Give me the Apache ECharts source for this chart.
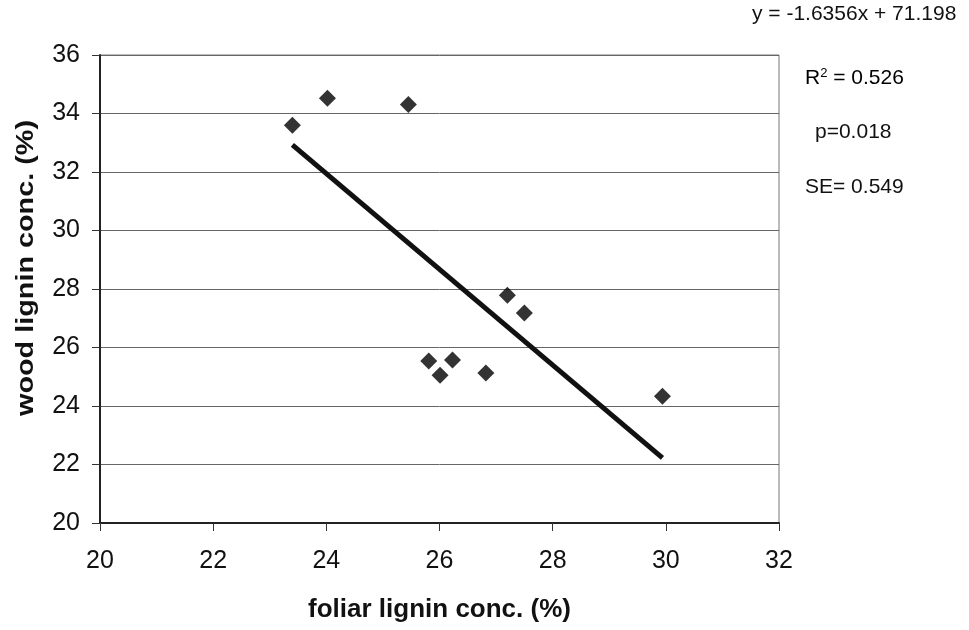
<!DOCTYPE html>
<html>
<head>
<meta charset="utf-8">
<script src="https://cdn.jsdelivr.net/npm/echarts@6/dist/echarts.min.js"></script>
<style>
  html, body { margin: 0; padding: 0; background: #fff; }
  #chart { width: 969px; height: 630px; }
</style>
</head>
<body>
<div id="chart"></div>
<script>
// Foliar vs wood lignin concentration (%)
const foliarLignin = [23.4, 24.02, 25.45, 27.2, 27.5, 25.81, 26.23, 26.01, 26.82, 29.94];
const woodLignin   = [33.6, 34.52, 34.31, 27.79, 27.18, 25.54, 25.57, 25.05, 25.13, 24.33];

// Linear fit y = slope * x + intercept, drawn over the observed foliar range
const slope = -1.6356;
const intercept = 71.198;
const fitRange = [23.4, 29.94];

const xTitle = 'foliar lignin conc. (%)';
const yTitle = 'wood lignin conc. (%)';
const statsLines = ['y = -1.6356x + 71.198', 'R² = 0.526', 'p=0.018', 'SE= 0.549'];

const points = foliarLignin.map((x, i) => [x, woodLignin[i]]);
const fitLine = fitRange.map(x => [x, slope * x + intercept]);

const FONT = 'Liberation Sans, Arial, sans-serif';
const chart = echarts.init(document.getElementById('chart'));

chart.setOption({
  backgroundColor: '#ffffff',
  animation: false,
  grid: {
    left: 100, right: 190, top: 55, bottom: 107,
    containLabel: false, outerBoundsMode: 'none',
    show: true, borderColor: '#777', borderWidth: 1, backgroundColor: 'transparent'
  },
  xAxis: {
    type: 'value', min: 20, max: 32, interval: 2,
    name: xTitle, nameLocation: 'middle', nameGap: 74,
    nameTextStyle: { fontFamily: FONT, fontWeight: 'bold', fontSize: 26, color: '#111' },
    axisLine: { show: true, onZero: false, lineStyle: { color: '#222', width: 2 } },
    axisTick: { show: true, inside: false, length: 8, lineStyle: { color: '#333', width: 1 } },
    axisLabel: { fontFamily: FONT, fontSize: 25, color: '#111', margin: 26 },
    splitLine: { show: false }
  },
  yAxis: {
    type: 'value', min: 20, max: 36, interval: 2,
    axisLine: { show: true, onZero: false, lineStyle: { color: '#222', width: 2 } },
    axisTick: { show: true, inside: false, length: 8, lineStyle: { color: '#333', width: 1 } },
    axisLabel: { fontFamily: FONT, fontSize: 25, color: '#111', margin: 20 },
    splitLine: { show: true, lineStyle: { color: '#666', width: 1 } }
  },
  series: [
    {
      type: 'line', data: fitLine, showSymbol: false, symbol: 'none',
      lineStyle: { color: '#111', width: 5 }, z: 2
    },
    {
      type: 'scatter', data: points, symbol: 'diamond', symbolSize: 17,
      itemStyle: { color: '#000' }, z: 3
    }
  ],
  graphic: [
    // vertical axis title, stretched along its length
    { type: 'text', x: 26, y: 268, rotation: Math.PI / 2, scaleX: 1.2,
      style: { text: yTitle, font: 'bold 24px ' + FONT, fill: '#111', align: 'center', verticalAlign: 'middle' } },
    { type: 'text', left: 752, top: 4, style: { text: statsLines[0], font: '21px ' + FONT, fill: '#111' } },
    { type: 'text', left: 805, top: 67, style: {
        text: '{b|R}{s|2}{b| = 0.526}',
        rich: {
          b: { fontFamily: FONT, fontSize: 21, color: '#111', verticalAlign: 'bottom' },
          s: { fontFamily: FONT, fontSize: 13, color: '#111', verticalAlign: 'top', padding: [0, 0, 9, 0] }
        } } },
    { type: 'text', left: 815, top: 122, style: { text: statsLines[2], font: '21px ' + FONT, fill: '#111' } },
    { type: 'text', left: 805, top: 177, style: { text: statsLines[3], font: '21px ' + FONT, fill: '#111' } }
  ]
});
</script>
</body>
</html>
